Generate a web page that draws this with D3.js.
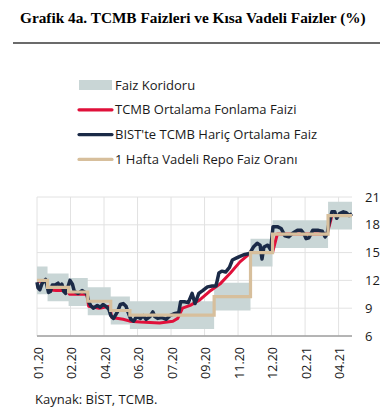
<!DOCTYPE html>
<html>
<head>
<meta charset="utf-8">
<script src="https://cdn.jsdelivr.net/npm/d3@7"></script>
<style>
  body { margin: 0; background: #fff; }
  svg { display: block; }
</style>
</head>
<body>
<svg id="chart" width="380" height="419"></svg>
<script>
// x positions are business-day index from 02.01.2020
const tickLabels = ["01.20", "02.20", "04.20", "06.20", "07.20", "09.20", "11.20", "12.20", "02.21", "04.21"];
const yTicks = [6, 9, 12, 15, 18, 21];

// policy rate (1 week repo) and corridor, step changes
const policyDays = [0, 11, 33, 53, 77, 97, 185, 223, 246, 304, 329];
const policyRate = [12, 11.25, 10.75, 9.75, 8.75, 8.25, 10.25, 15, 17, 19, 19];
const corridorLow = [10.5, 9.75, 9.25, 8.25, 7.25, 6.75, 8.75, 13.5, 15.5, 17.5, 17.5];
const corridorHigh = [13.5, 12.75, 12.25, 11.25, 10.25, 9.75, 11.75, 16.5, 18.5, 20.5, 20.5];

// TCMB average funding rate
const fundDays = [0, 10, 12, 20, 32, 34, 52, 54, 65, 76, 78, 90, 97, 108, 128, 142, 147, 152, 160, 170, 180, 191, 202, 212, 220, 224, 246, 251, 303, 308, 329];
const fundRate = [11.9, 11.9, 11.0, 10.9, 10.9, 10.5, 10.5, 9.2, 9.0, 9.2, 8.0, 7.8, 7.6, 7.5, 7.4, 7.6, 7.9, 9.0, 9.3, 9.9, 10.8, 11.6, 12.8, 14.0, 14.7, 15, 15, 17, 17, 19, 19];

// BIST rate excluding TCMB
const bistDays = [0, 1, 3, 5, 7, 9, 10.5, 12, 14, 16, 19, 22, 24, 26, 28, 30, 32, 34.5, 37, 39, 43, 47, 50, 52, 54, 56, 59, 63, 66, 69, 72, 75, 77, 80, 84, 87, 90, 93, 95, 98, 101, 104, 108, 111, 114, 118, 121, 123, 126, 130, 135, 139, 143, 148, 150, 154, 158, 162, 165, 169, 173, 178, 183, 187, 190, 193, 197, 201, 204, 208, 212, 217, 222, 226, 230, 233, 235, 237, 241, 244, 246.5, 251, 255, 259, 263, 267, 272, 276, 279, 281, 284, 288, 294, 298, 301, 303, 305, 308, 311, 313, 316, 320, 323, 326, 329];
const bistRate = [11.8, 11.2, 11.0, 11.6, 11.9, 12.1, 11.4, 10.7, 10.8, 11.5, 11.5, 11.7, 11.3, 11.6, 10.8, 10.6, 11.2, 12.0, 11.6, 10.8, 10.6, 10.9, 10.7, 10.6, 9.7, 9.3, 9.0, 9.3, 9.1, 9.4, 9.2, 8.9, 8.2, 7.9, 8.6, 9.4, 9.5, 9.2, 8.6, 7.8, 7.6, 8.1, 7.9, 8.2, 7.8, 8.1, 8.6, 8.1, 7.9, 8.0, 7.8, 8.2, 8.4, 8.5, 9.7, 9.7, 9.6, 10.6, 9.5, 10.6, 10.9, 11.3, 11.4, 11.4, 12.8, 13.0, 12.9, 13.4, 14.2, 14.4, 14.6, 14.8, 14.9, 15.6, 16.0, 15.8, 14.3, 15.6, 15.8, 15.3, 17.8, 17.8, 17.6, 16.8, 16.7, 17.1, 17.4, 17.4, 17.0, 16.5, 16.6, 17.4, 17.4, 17.3, 16.7, 17.0, 18.2, 19.4, 19.4, 18.7, 19.2, 19.4, 19.3, 19.0, 19.2];

const legendItems = [
  { label: "Faiz Koridoru", kind: "band", color: "#c9d6d6" },
  { label: "TCMB Ortalama Fonlama Faizi", kind: "line", color: "#e0103a" },
  { label: "BIST'te TCMB Hariç Ortalama Faiz", kind: "line", color: "#1b2a47" },
  { label: "1 Hafta Vadeli Repo Faiz Oranı", kind: "line", color: "#d7bf9c" }
];

const svg = d3.select("#chart");
const font = "'Open Sans', 'Noto Sans', sans-serif";

// title
svg.append("text")
  .attr("x", 20).attr("y", 23)
  .attr("font-family", "'Liberation Serif', 'Times New Roman', serif")
  .attr("font-weight", "bold")
  .attr("font-size", 15.3)
  .attr("fill", "#000")
  .text("Grafik 4a. TCMB Faizleri ve Kısa Vadeli Faizler (%)");

svg.append("line")
  .attr("x1", 13).attr("x2", 380).attr("y1", 43).attr("y2", 43)
  .attr("stroke", "#6b6b6b").attr("stroke-width", 2);

// legend
const leg = svg.append("g").attr("transform", "translate(79,85)");
legendItems.forEach((d, i) => {
  const g = leg.append("g").attr("transform", `translate(0,${i * 24.8})`);
  if (d.kind === "band") {
    g.append("rect").attr("x", 0).attr("y", -5).attr("width", 33).attr("height", 10).attr("fill", d.color);
  } else {
    g.append("line").attr("x1", 0).attr("x2", 33).attr("y1", 0).attr("y2", 0)
      .attr("stroke", d.color).attr("stroke-width", 3.2).attr("stroke-linecap", "round");
  }
  g.append("text").attr("x", 36).attr("y", 0).attr("dy", "0.36em")
    .attr("font-family", font).attr("font-size", 13).attr("fill", "#1a1a1a")
    .text(d.label);
});

// scales
const x = d3.scaleLinear().domain([0, 329]).range([37, 352]);
const y = d3.scaleLinear().domain([6, 21]).range([336, 197]);
const tickDays = tickLabels.map((_, i) => i * 35);

// grid
svg.append("g").selectAll("line.v").data(tickDays).join("line")
  .attr("x1", d => x(d)).attr("x2", d => x(d)).attr("y1", y(21)).attr("y2", y(6))
  .attr("stroke", "#e2e2e2").attr("stroke-width", 1);
svg.append("g").selectAll("line.h").data(yTicks).join("line")
  .attr("x1", x(0)).attr("x2", x(329)).attr("y1", d => y(d)).attr("y2", d => y(d))
  .attr("stroke", "#e2e2e2").attr("stroke-width", 1);

// corridor band
const band = policyDays.map((d, i) => ({ d, lo: corridorLow[i], hi: corridorHigh[i] }));
svg.append("path").datum(band)
  .attr("fill", "#c9d6d6")
  .attr("d", d3.area().curve(d3.curveStepAfter).x(p => x(p.d)).y0(p => y(p.lo)).y1(p => y(p.hi)));

const lineGen = d3.line().x(p => x(p[0])).y(p => y(p[1]));

svg.append("path").datum(d3.zip(fundDays, fundRate))
  .attr("fill", "none").attr("stroke", "#e0103a").attr("stroke-width", 3)
  .attr("stroke-linejoin", "round").attr("d", lineGen);

svg.append("path").datum(d3.zip(bistDays, bistRate))
  .attr("fill", "none").attr("stroke", "#1b2a47").attr("stroke-width", 3.5)
  .attr("stroke-linejoin", "round").attr("d", lineGen);

svg.append("path").datum(d3.zip(policyDays, policyRate))
  .attr("fill", "none").attr("stroke", "#d7bf9c").attr("stroke-width", 3.2)
  .attr("d", d3.line().curve(d3.curveStepAfter).x(p => x(p[0])).y(p => y(p[1])));

// x axis line
svg.append("line")
  .attr("x1", x(0)).attr("x2", x(329)).attr("y1", y(6)).attr("y2", y(6))
  .attr("stroke", "#a0a0a0").attr("stroke-width", 1.5);

// y labels on right
svg.append("g").selectAll("text").data(yTicks).join("text")
  .attr("x", 365).attr("y", d => y(d)).attr("dy", "0.36em")
  .attr("font-family", font).attr("font-size", 13).attr("fill", "#1a1a1a")
  .text(d => d);

// x labels rotated
svg.append("g").selectAll("text").data(tickLabels).join("text")
  .attr("transform", (d, i) => `translate(${x(tickDays[i]) + 1},347) rotate(-90)`)
  .attr("text-anchor", "end").attr("dy", "0.36em")
  .attr("font-family", font).attr("font-size", 12.5).attr("fill", "#1a1a1a")
  .text(d => d);

// source
svg.append("text")
  .attr("x", 35).attr("y", 404)
  .attr("font-family", font).attr("font-size", 13).attr("fill", "#1a1a1a")
  .text("Kaynak: BİST, TCMB.");
</script>
</body>
</html>
